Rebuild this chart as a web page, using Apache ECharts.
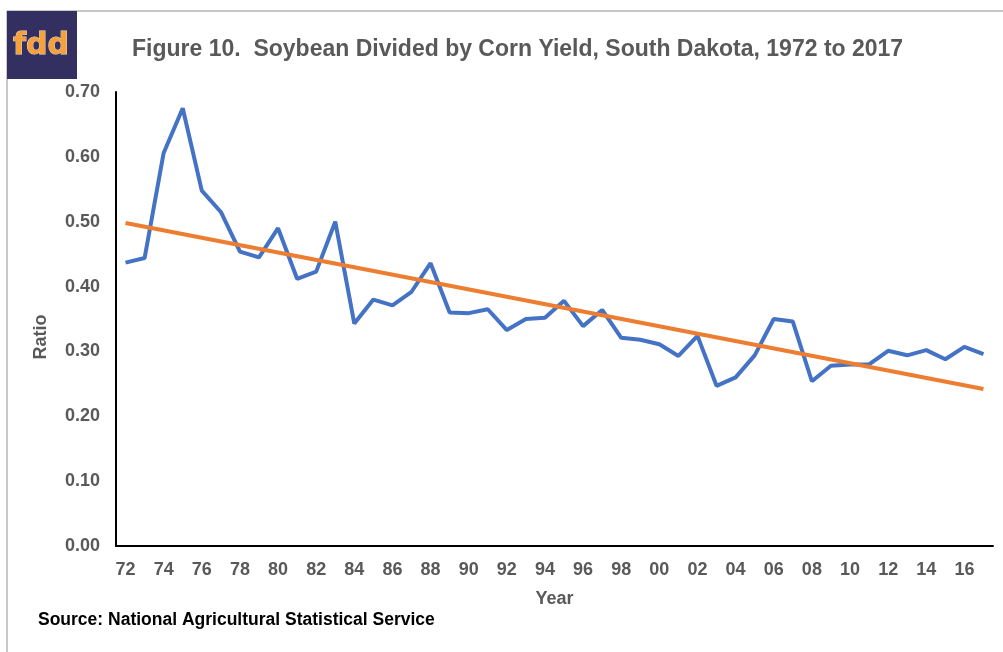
<!DOCTYPE html>
<html>
<head>
<meta charset="utf-8">
<script src="https://cdn.jsdelivr.net/npm/echarts@6/dist/echarts.min.js"></script>
<style>
  html, body { margin: 0; padding: 0; background: #fff; }
  #chart { width: 1003px; height: 652px; }
</style>
</head>
<body>
<div id="chart"></div>
<script>
// years 1972..2017, labels shown as two digits
const years = ['72','73','74','75','76','77','78','79','80','81','82','83','84','85','86','87',
  '88','89','90','91','92','93','94','95','96','97','98','99','00','01','02','03','04','05',
  '06','07','08','09','10','11','12','13','14','15','16','17']

const ratio = [0.437, 0.444, 0.606, 0.675, 0.548, 0.515, 0.454, 0.445, 0.490, 0.412,
  0.423, 0.500, 0.343, 0.380, 0.371, 0.392, 0.436, 0.360, 0.359, 0.365,
  0.333, 0.350, 0.352, 0.378, 0.339, 0.364, 0.321, 0.318, 0.311, 0.293,
  0.324, 0.247, 0.260, 0.294, 0.350, 0.346, 0.254, 0.278, 0.280, 0.280,
  0.301, 0.294, 0.302, 0.288, 0.307, 0.296]

// linear trend, read at both ends of the picture
const trendEnds = { start: 0.498, end: 0.242 }
const trend = years.map((y, i) => i === 0 ? trendEnds.start : (i === years.length - 1 ? trendEnds.end : null))

const yTicks = { min: 0, max: 0.7, interval: 0.1 }

const FONT = 'Liberation Sans, Arial, sans-serif'
const GRAY = '#595959'

const chart = echarts.init(document.getElementById('chart'), null, { renderer: 'canvas' })

chart.setOption({
  backgroundColor: '#ffffff',
  animation: false,
  title: {
    text: 'Figure 10.  Soybean Divided by Corn Yield, South Dakota, 1972 to 2017',
    left: 127,
    top: 33,
    textStyle: { color: GRAY, fontSize: 23, fontWeight: 'bold', fontFamily: FONT }
  },
  grid: { left: 116, right: 10, top: 92, bottom: 106 },
  xAxis: {
    type: 'category',
    data: years,
    boundaryGap: true,
    name: 'Year',
    nameLocation: 'middle',
    nameGap: 44,
    nameTextStyle: { color: GRAY, fontSize: 18, fontWeight: 'bold', fontFamily: FONT },
    axisLine: { lineStyle: { color: '#000', width: 2 } },
    axisTick: { show: false },
    axisLabel: {
      interval: 1,
      margin: 15,
      color: GRAY,
      fontSize: 18,
      fontWeight: 'bold',
      fontFamily: FONT
    },
    splitLine: { show: false }
  },
  yAxis: {
    type: 'value',
    min: yTicks.min,
    max: yTicks.max,
    interval: yTicks.interval,
    axisLine: { show: true, lineStyle: { color: '#000', width: 2 } },
    axisTick: { show: false },
    axisLabel: {
      margin: 16,
      color: GRAY,
      fontSize: 18,
      fontWeight: 'bold',
      fontFamily: FONT,
      formatter: (v) => v.toFixed(2)
    },
    splitLine: { show: false }
  },
  series: [
    {
      type: 'line',
      data: ratio,
      symbol: 'none',
      lineStyle: { color: '#4472C4', width: 4 },
      z: 2
    },
    {
      type: 'line',
      data: trend,
      connectNulls: true,
      symbol: 'none',
      lineStyle: { color: '#ED7D31', width: 4 },
      z: 3
    }
  ],
  graphic: [
    // light frame round the figure
    { type: 'line', shape: { x1: 7, y1: 11, x2: 1003, y2: 11 }, style: { stroke: '#c8c8c8', lineWidth: 2 } },
    { type: 'line', shape: { x1: 7, y1: 11, x2: 7, y2: 652 }, style: { stroke: '#c8c8c8', lineWidth: 2 } },
    // fdd logo
    { type: 'rect', shape: { x: 7, y: 11, width: 70, height: 68 }, style: { fill: '#332F60' } },
    {
      type: 'text', x: 41, y: 46,
      style: {
        text: 'fdd', align: 'center', verticalAlign: 'middle',
        fill: '#F7A13A', stroke: '#e8dcc8', lineWidth: 1,
        font: 'bold 30px "DejaVu Sans", sans-serif'
      }
    },
    // y axis title, sits lower than the plot middle
    {
      type: 'text', x: 41, y: 337, rotation: Math.PI / 2,
      style: {
        text: 'Ratio', align: 'center', verticalAlign: 'middle',
        fill: GRAY, font: 'bold 18px ' + FONT
      }
    },
    {
      type: 'text', x: 38, y: 620,
      style: {
        text: 'Source: National Agricultural Statistical Service',
        verticalAlign: 'middle', fill: '#000',
        font: 'bold 17.5px ' + FONT
      }
    }
  ]
})
</script>
</body>
</html>
